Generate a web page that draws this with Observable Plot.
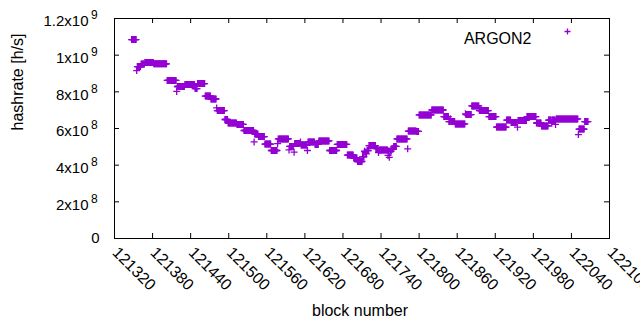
<!DOCTYPE html>
<html><head><meta charset="utf-8">
<script src="https://cdn.jsdelivr.net/npm/d3@7"></script>
<script src="https://cdn.jsdelivr.net/npm/@observablehq/plot@0.6"></script>
<style>
html,body{margin:0;padding:0;background:#fff;overflow:hidden;}
#chart svg{display:block;}
</style></head><body><div id="chart"></div>
<script>
// Runs of consecutive blocks sharing the same hashrate estimate (values in 1e6 h/s)
const runStart = [121347,121355,121356,121362,121368,121382,121403,121418,121419,121431,121447,121451,121463,121472,121481,121482,121494,121499,121513,121524,121540,121541,121547,121557,121567,121577,121578,121595,121596,121603,121604,121613,121614,121624,121625,121636,121642,121659,121671,121687,121697,121703,121711,121712,121714,121715,121717,121718,121721,121732,121736,121737,121751,121752,121753,121754,121757,121760,121765,121782,121783,121796,121800,121820,121839,121847,121849,121850,121857,121873,121874,121883,121895,121910,121922,121938,121945,121955,121956,121970,121985,121993,122004,122009,122010,122015,122016,122051,122052,122061];
const runEnd   = [121354,121355,121361,121367,121381,121402,121417,121418,121430,121446,121450,121462,121471,121480,121481,121493,121498,121512,121523,121539,121540,121546,121556,121566,121576,121577,121594,121595,121602,121603,121612,121613,121623,121624,121635,121641,121658,121670,121686,121696,121702,121710,121711,121713,121714,121716,121717,121720,121731,121735,121736,121750,121751,121752,121753,121756,121759,121764,121781,121782,121795,121799,121819,121838,121846,121848,121849,121856,121872,121873,121882,121894,121909,121921,121937,121944,121954,121955,121969,121984,121992,122003,122008,122009,122014,122015,122050,122051,122060,122066];
const runHashrateM = [1085,916,938,952,960,953,862,802,829,840,818,845,777,761,712,698,649,630,622,589,527,570,556,515,480,518,543,483,502,471,518,526,510,480,526,513,532,480,513,455,439,420,447,445,476,470,462,480,507,491,469,483,453,477,443,477,488,502,543,489,586,584,674,701,665,638,653,638,625,680,676,723,698,665,608,646,633,607,644,665,630,614,646,629,646,622,652,567,597,638];

const xTicks = [121320,121380,121440,121500,121560,121620,121680,121740,121800,121860,121920,121980,122040,122100];
const yTicks = [0,2e8,4e8,6e8,8e8,1e9,1.2e9];
const yTickMantissa = ["0","2x10","4x10","6x10","8x10","1x10","1.2x10"];
const yTickExponent = ["","8","8","8","8","9","9"];
const seriesName = "ARGON2";
const xTitle = "block number";
const yTitle = "hashrate [h/s]";

const points = [];
runStart.forEach((s, i) => {
  for (let b = s; b <= runEnd[i]; b++) points.push({block: b, hashrate: runHashrateM[i] * 1e6});
});
const yLab = yTicks.map((v, i) => ({v, m: yTickMantissa[i], e: yTickExponent[i]}));

const W = 640, H = 330, mL = 114, mR = 31, mT = 18, mB = 92;
const innerW = W - mL - mR, innerH = H - mT - mB;
const TICK = 5;
const color = "#9400d3";
const plusSymbol = {draw(ctx, size) {
  const r = Math.sqrt(size / Math.PI);
  ctx.moveTo(-r, 0); ctx.lineTo(r, 0); ctx.moveTo(0, -r); ctx.lineTo(0, r);
}};

const chart = Plot.plot({
  width: W, height: H,
  marginLeft: mL, marginRight: mR, marginTop: mT, marginBottom: mB,
  style: {fontFamily: "'Liberation Sans', Arial, sans-serif", fontSize: "16px", background: "white", color: "black"},
  x: {domain: [121320, 122100], axis: null},
  y: {domain: [0, 1.2e9], axis: null},
  marks: [
    Plot.tickX(xTicks, {x: d => d, insetTop: innerH - TICK, stroke: "black"}),
    Plot.tickX(xTicks, {x: d => d, insetBottom: innerH - TICK, stroke: "black"}),
    Plot.tickY(yTicks, {y: d => d, insetRight: innerW - TICK, stroke: "black"}),
    Plot.tickY(yTicks, {y: d => d, insetLeft: innerW - TICK, stroke: "black"}),
    Plot.dot(points, {x: "block", y: "hashrate", symbol: plusSymbol, r: 3.5, stroke: color, fill: "none", strokeWidth: 1.3}),
    Plot.frame({stroke: "black"}),
    Plot.text(xTicks, {x: d => d, frameAnchor: "bottom", text: d => String(d), rotate: 45, textAnchor: "start", dx: -3, dy: 15, fontSize: 16}),
    Plot.text(yLab.filter(d => d.e === ""), {y: "v", frameAnchor: "left", text: "m", textAnchor: "end", dx: -15, fontSize: 15}),
    Plot.text(yLab.filter(d => d.e !== ""), {y: "v", frameAnchor: "left", text: "m", textAnchor: "end", dx: -26, dy: 3, fontSize: 15}),
    Plot.text(yLab.filter(d => d.e !== ""), {y: "v", frameAnchor: "left", text: "e", textAnchor: "start", dx: -23.5, dy: -3, fontSize: 12}),
    Plot.text([yTitle], {frameAnchor: "left", dx: -97, dy: 2, rotate: -90, fontSize: 16}),
    Plot.text([xTitle], {frameAnchor: "bottom", dx: -2, dy: 77, fontSize: 16}),
    Plot.text([seriesName], {frameAnchor: "top-right", dx: -78, dy: 14, textAnchor: "end", fontSize: 16}),
    Plot.dot([seriesName], {frameAnchor: "top-right", dx: -42, dy: 13, symbol: plusSymbol, r: 3, stroke: color, fill: "none", strokeWidth: 1.3})
  ]
});
document.getElementById("chart").appendChild(chart);
</script></body></html>
